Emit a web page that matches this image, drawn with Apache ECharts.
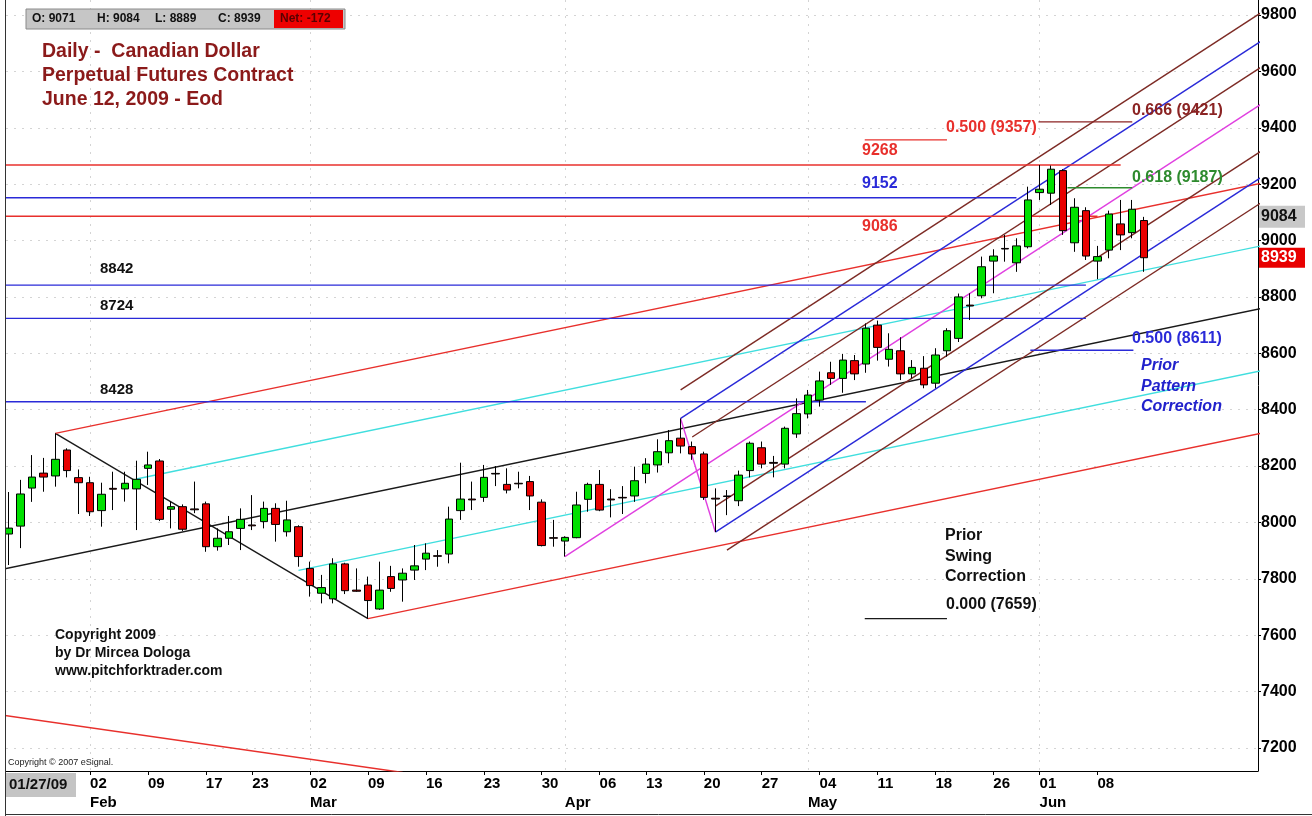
<!DOCTYPE html>
<html><head><meta charset="utf-8">
<script src="https://cdn.jsdelivr.net/npm/echarts@6/dist/echarts.min.js"></script>
<style>html,body{margin:0;padding:0;background:#fff}#c{width:1312px;height:816px}</style>
</head><body><div id="c"></div>
<script>
// ---------- DATA ----------
const dates = [
 '2009-01-22','2009-01-23','2009-01-26','2009-01-27','2009-01-28','2009-01-29','2009-01-30',
 '2009-02-02','2009-02-03','2009-02-04','2009-02-05','2009-02-06','2009-02-09','2009-02-10','2009-02-11','2009-02-12','2009-02-13',
 '2009-02-17','2009-02-18','2009-02-19','2009-02-20','2009-02-23','2009-02-24','2009-02-25','2009-02-26','2009-02-27',
 '2009-03-02','2009-03-03','2009-03-04','2009-03-05','2009-03-06','2009-03-09','2009-03-10','2009-03-11','2009-03-12','2009-03-13',
 '2009-03-16','2009-03-17','2009-03-18','2009-03-19','2009-03-20','2009-03-23','2009-03-24','2009-03-25','2009-03-26','2009-03-27',
 '2009-03-30','2009-03-31','2009-04-01','2009-04-02','2009-04-03','2009-04-06','2009-04-07','2009-04-08','2009-04-09',
 '2009-04-13','2009-04-14','2009-04-15','2009-04-16','2009-04-17','2009-04-20','2009-04-21','2009-04-22','2009-04-23','2009-04-24',
 '2009-04-27','2009-04-28','2009-04-29','2009-04-30','2009-05-01','2009-05-04','2009-05-05','2009-05-06','2009-05-07','2009-05-08',
 '2009-05-11','2009-05-12','2009-05-13','2009-05-14','2009-05-15','2009-05-18','2009-05-19','2009-05-20','2009-05-21','2009-05-22',
 '2009-05-26','2009-05-27','2009-05-28','2009-05-29','2009-06-01','2009-06-02','2009-06-03','2009-06-04','2009-06-05',
 '2009-06-08','2009-06-09','2009-06-10','2009-06-11','2009-06-12'];
const open = [7959,7987,8122,8175,8165,8257,8159,
 8141,8042,8121,8119,8119,8192,8218,8047,8056,8048,8066,7914,7944,7979,7991,8003,8050,7967,7985,
 7837,7749,7729,7853,7760,7778,7693,7808,7796,7831,7870,7882,7888,8042,8083,8089,8174,8135,8139,8145,8072,7946,
 7934,7946,8082,8135,8083,8089,8094,8174,8204,8247,8299,8269,8243,8086,8094,8077,8184,8265,8213,8207,8314,
 8385,8434,8531,8511,8574,8562,8700,8579,8609,8527,8547,8494,8609,8653,8771,8804,8927,8972,8921,8978,
 9170,9168,9248,8992,9106,8927,8966,9059,9028,9071];
const high = [8108,8151,8239,8229,8316,8263,8188,
 8162,8141,8180,8180,8219,8251,8225,8074,8064,8145,8074,7979,8023,8050,8097,8074,8068,8077,7990,
 7861,7814,7873,7857,7837,7808,7861,7846,7837,7920,7926,7902,8056,8212,8145,8204,8200,8192,8180,8165,8082,8009,
 7951,8109,8141,8186,8118,8129,8198,8228,8295,8328,8369,8287,8251,8121,8115,8184,8287,8287,8236,8340,8440,
 8470,8535,8570,8598,8594,8706,8716,8671,8657,8576,8590,8618,8689,8812,8813,8943,8969,9020,9008,9191,
 9268,9266,9253,9150,9118,8981,9106,9144,9144,9084];
const low = [7849,7909,8073,8109,8127,8160,8030,
 8023,7985,8044,8074,7973,8133,8005,7979,7970,8033,7896,7900,7920,7902,7973,7979,7932,7950,7843,
 7737,7713,7713,7746,7754,7659,7690,7754,7719,7796,7831,7843,7855,8009,8044,8073,8129,8103,8121,8044,7915,7914,
 7879,7944,8038,8040,8018,8030,8073,8139,8177,8210,8245,8222,8080,7966,8026,8058,8160,8192,8160,8192,8300,
 8369,8411,8488,8460,8505,8531,8574,8553,8505,8511,8476,8476,8588,8640,8718,8795,8813,8925,8889,8972,
 9144,9126,9020,8960,8931,8863,8937,8966,9008,8889];
const close = [7980,8101,8161,8161,8224,8184,8141,
 8038,8100,8118,8139,8153,8204,8011,8056,7976,8045,7914,7944,7967,8011,7988,8050,7993,8009,7879,
 7776,7769,7853,7758,7756,7723,7760,7766,7820,7846,7891,7880,8012,8083,8080,8160,8172,8115,8137,8094,7918,7944,
 7947,8062,8135,8044,8080,8087,8148,8207,8251,8290,8271,8243,8089,8083,8092,8168,8281,8207,8210,8334,8386,
 8452,8502,8511,8576,8527,8689,8621,8614,8527,8550,8488,8594,8680,8800,8768,8907,8945,8970,8981,9144,
 9182,9253,9035,9118,8945,8943,9094,9020,9111,8939];

const weekTickDates = ['2009-02-02','2009-02-09','2009-02-17','2009-02-23','2009-03-02','2009-03-09','2009-03-16','2009-03-23',
 '2009-03-30','2009-04-06','2009-04-13','2009-04-20','2009-04-27','2009-05-04','2009-05-11','2009-05-18','2009-05-26','2009-06-01','2009-06-08'];
const monthTickDates = ['2009-02-02','2009-03-02','2009-04-01','2009-05-01','2009-06-01'];
const monthLabels = ['Feb','Mar','Apr','May','Jun'];
const priceTicks = [7200,7400,7600,7800,8000,8200,8400,8600,8800,9000,9200,9400,9600,9800];

// Pitchfork lines, as [bar index, price] pairs
const bigForkPivotLine = [[4, 8316], [31, 7659]];
const bigForkUpper = [[4, 8316], [110, 9219]];
const bigForkLower = [[31, 7659], [110, 8332]];
const bigForkMedian = [[-1, 7830], [110, 8775]];
const bigForkUpperMid = [[11, 8154], [110, 8997]];
const bigForkLowerMid = [[25, 7830], [110, 8554]];
const olderForkLine = [[-1, 7319], [34, 7113]];
const aprForkPivotLine = [[58, 8369], [61, 7966]];
const aprForkMedian = [[48, 7879], [110, 9534]];
const aprForkUpper = [[58, 8369], [110, 9757]];
const aprForkLower = [[61, 7966], [110, 9274]];
const aprWarn1 = [[58, 8470], [110, 9858]];
const aprWarn2 = [[59, 8303], [110, 9665]];
const aprWarn3 = [[61, 8058], [110, 9367]];
const aprWarn4 = [[62, 7902], [110, 9184]];

// Horizontal levels: price, start bar, end bar
const levelPrices = [9268, 9152, 9086, 8842, 8724, 8428];
const levelStart = [-1, -1, -1, -1, -1, -1];
const levelEnd = [96, 87, 94, 93, 93, 74];
// Retracement markers
const fibPrices = [9357, 7659, 9421, 9187, 8611];
const fibStart = [73.9, 73.9, 88.9, 91.4, 88.2];
const fibEnd = [81, 81, 97, 97, 97.1];

const lastHigh = 9084, lastClose = 8939;

// ---------- STYLES ----------
const FONT = '"Liberation Sans", Arial, sans-serif';
const C = {red:'#e8302c', blue:'#2a2ad8', cyan:'#40dede', black:'#1a1a1a', mag:'#e040e0', brown:'#7d2b25', green:'#2e8b2e', dred:'#8b2323'};
const levelColors = [C.red, C.blue, C.red, C.blue, C.blue, C.blue];
const fibColors = [C.red, C.black, C.dred, C.green, C.blue];

// ---------- BUILD ----------
const idxOf = d => dates.indexOf(d);
const weekIdx = weekTickDates.map(idxOf);
const monthIdx = monthTickDates.map(idxOf);
const candleData = dates.map((d, i) => [i, open[i], close[i], low[i], high[i]]);

function seg(pts, color, w) {
  return {type:'line', data: pts, xAxisIndex:0, yAxisIndex:0, symbol:'none', showSymbol:false,
    clip:true, silent:true, z:2, animation:false, lineStyle:{color:color, width:w||1.4}};
}
const lineSeries = [
  seg(bigForkPivotLine, C.black), seg(bigForkUpper, C.red), seg(bigForkLower, C.red),
  seg(bigForkMedian, C.black), seg(bigForkUpperMid, C.cyan), seg(bigForkLowerMid, C.cyan),
  seg(olderForkLine, C.red),
  seg(aprForkPivotLine, C.mag), seg(aprForkMedian, C.mag), seg(aprForkUpper, C.blue), seg(aprForkLower, C.blue),
  seg(aprWarn1, C.brown), seg(aprWarn2, C.brown), seg(aprWarn3, C.brown), seg(aprWarn4, C.brown)
];
levelPrices.forEach((p, i) => lineSeries.push(seg([[levelStart[i], p], [levelEnd[i], p]], levelColors[i])));
fibPrices.forEach((p, i) => lineSeries.push(seg([[fibStart[i], p], [fibEnd[i], p]], fibColors[i])));

const xMin = -0.26, xMax = 107.86;
const option = {
  animation:false,
  backgroundColor:'#ffffff',
  grid:{left:6, right:54, top:0, bottom:45, containLabel:false},
  xAxis:[{
    type:'value', min:xMin, max:xMax, position:'bottom',
    axisLine:{show:true, onZero:false, lineStyle:{color:'#000', width:1}},
    axisTick:{show:true, length:4, customValues:weekIdx, lineStyle:{color:'#000'}},
    axisLabel:{customValues:weekIdx, align:'left', margin:5, color:'#000', fontFamily:FONT, fontWeight:'bold', fontSize:15,
      formatter: v => { const d = dates[Math.round(v)]; return d ? d.slice(8) : ''; }},
    splitLine:{show:false}
  },{
    type:'value', min:xMin, max:xMax, position:'bottom', offset:19,
    axisLine:{show:false}, axisTick:{show:false, customValues:monthIdx},
    axisLabel:{customValues:monthIdx, align:'left', margin:5, color:'#000', fontFamily:FONT, fontWeight:'bold', fontSize:15,
      formatter: v => { const k = monthIdx.indexOf(Math.round(v)); return k >= 0 ? monthLabels[k] : ''; }},
    splitLine:{show:true, lineStyle:{color:'#d4d4d4', type:[2,6], width:1}}
  }],
  yAxis:{
    type:'value', position:'right', min:7118.4, max:9853.2, scale:true,
    axisLine:{show:true, onZero:false, lineStyle:{color:'#000', width:1}},
    axisTick:{show:true, length:3, customValues:priceTicks, lineStyle:{color:'#000'}},
    axisLabel:{customValues:priceTicks, align:'left', margin:3, color:'#000', fontFamily:FONT, fontWeight:'bold', fontSize:16,
      formatter: v => String(Math.round(v))},
    splitLine:{show:true, lineStyle:{color:'#d4d4d4', type:[2,6], width:1}}
  },
  series: lineSeries.concat([{
    type:'candlestick', data:candleData, xAxisIndex:0, yAxisIndex:0, barWidth:8, z:5, clip:true,
    encode:{x:0, y:[1,2,3,4]},
    itemStyle:{color:'#00e000', color0:'#e80000', borderColor:'#000', borderColor0:'#000', borderWidth:1}
  }])
};

const chart = echarts.init(document.getElementById('c'), null, {renderer:'canvas'});
chart.setOption(option);

function txt(x, y, s, color, font) {
  return {type:'text', x:x, y:y, z:100, silent:true,
    style:{text:s, fill:color, font:font, align:'left', verticalAlign:'middle'}};
}
const B16 = 'bold 16px ' + FONT, B15 = 'bold 15px ' + FONT;
const yHigh = chart.convertToPixel({yAxisIndex:0}, lastHigh);
const yClose = chart.convertToPixel({yAxisIndex:0}, lastClose);
const TITLE = '#8b1a1a';
const graphics = [
  // frame
  {type:'line', shape:{x1:5.5, y1:0, x2:5.5, y2:816}, style:{stroke:'#333', lineWidth:1}, z:90},
  {type:'line', shape:{x1:5, y1:814.5, x2:1312, y2:814.5}, style:{stroke:'#333', lineWidth:1}, z:90},
  // header bar
  {type:'rect', shape:{x:26, y:9, width:319, height:20}, style:{fill:'#c6c6c6', stroke:'#8a8a8a', lineWidth:1}, z:95},
  {type:'rect', shape:{x:274, y:10, width:69, height:18}, style:{fill:'#ee0000'}, z:96},
  txt(32, 19, 'O: 9071', '#111', 'bold 12px ' + FONT),
  txt(97, 19, 'H: 9084', '#111', 'bold 12px ' + FONT),
  txt(155, 19, 'L: 8889', '#111', 'bold 12px ' + FONT),
  txt(218, 19, 'C: 8939', '#111', 'bold 12px ' + FONT),
  txt(280, 19, 'Net: -172', '#5a0000', 'bold 12px ' + FONT),
  // title
  txt(42, 52, 'Daily -  Canadian Dollar', TITLE, 'bold 19.5px ' + FONT),
  txt(42, 76, 'Perpetual Futures Contract', TITLE, 'bold 19.5px ' + FONT),
  txt(42, 100, 'June 12, 2009 - Eod', TITLE, 'bold 19.5px ' + FONT),
  // level labels
  txt(100, 269, '8842', '#111', B15),
  txt(100, 306, '8724', '#111', B15),
  txt(100, 390, '8428', '#111', B15),
  txt(862, 151, '9268', C.red, B16),
  txt(862, 184, '9152', C.blue, B16),
  txt(862, 227, '9086', C.red, B16),
  txt(946, 128, '0.500 (9357)', C.red, B16),
  txt(1132, 111, '0.666 (9421)', C.dred, B16),
  txt(1132, 178, '0.618 (9187)', C.green, B16),
  txt(1132, 339, '0.500 (8611)', C.blue, B16),
  txt(1141, 366, 'Prior', '#2222cc', 'italic bold 16px ' + FONT),
  txt(1141, 387, 'Pattern', '#2222cc', 'italic bold 16px ' + FONT),
  txt(1141, 407, 'Correction', '#2222cc', 'italic bold 16px ' + FONT),
  txt(945, 536, 'Prior', '#111', B16),
  txt(945, 557, 'Swing', '#111', B16),
  txt(945, 577, 'Correction', '#111', B16),
  txt(946, 605, '0.000 (7659)', '#111', B16),
  txt(55, 635, 'Copyright 2009', '#111', 'bold 14px ' + FONT),
  txt(55, 653, 'by Dr Mircea Dologa', '#111', 'bold 14px ' + FONT),
  txt(55, 671, 'www.pitchforktrader.com', '#111', 'bold 14px ' + FONT),
  txt(8, 763, 'Copyright \u00a9 2007 eSignal.', '#222', '9px ' + FONT),
  // date box
  {type:'rect', shape:{x:6, y:773, width:70, height:24}, style:{fill:'#c4c4c4'}, z:95},
  txt(9, 785, '01/27/09', '#111', B15),
  // price boxes
  {type:'rect', shape:{x:1259, y:yHigh - 11, width:46, height:22}, style:{fill:'#c8c8c8'}, z:95},
  txt(1261, yHigh, String(lastHigh), '#111', B16),
  {type:'rect', shape:{x:1259, y:yClose - 10, width:46, height:20}, style:{fill:'#e80000'}, z:95},
  txt(1261, yClose, String(lastClose), '#ffffff', B16)
];
chart.setOption({graphic: graphics});
</script>
</body></html>
